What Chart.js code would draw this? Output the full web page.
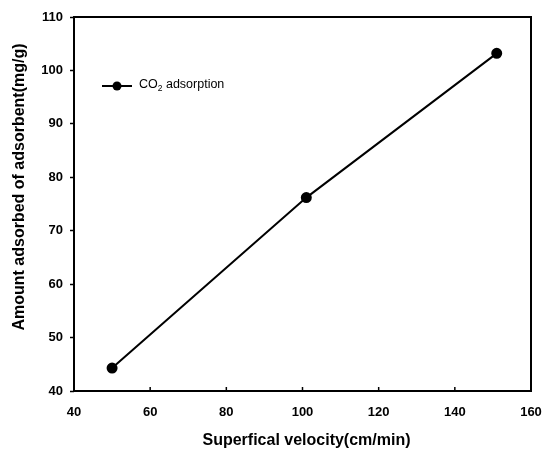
<!DOCTYPE html>
<html>
<head>
<meta charset="utf-8">
<script src="https://cdn.jsdelivr.net/npm/chart.js@4.4.1/dist/chart.umd.min.js"></script>
<style>
  html, body { margin: 0; padding: 0; background: #fff; }
  #wrap { width: 556px; height: 455px; position: relative; }
</style>
</head>
<body>
<div id="wrap"><canvas id="chart"></canvas></div>
<script>
// Superficial velocity vs CO2 amount adsorbed
var VELOCITY = [50, 101, 151];
var ADSORBED = [44.3, 76.2, 103.2];
var SERIES_LABEL = 'CO2 adsorption';
var X_TITLE = 'Superfical velocity(cm/min)';
var Y_TITLE = 'Amount adsorbed of adsorbent(mg/g)';
var X_RANGE = [40, 160, 20];
var Y_RANGE = [40, 110, 10];

var FONT = '"Liberation Sans", Arial, sans-serif';

var points = VELOCITY.map(function (v, i) { return { x: v, y: ADSORBED[i] }; });

// ── frame, inward x ticks, titles, legend ──
var decorations = {
  id: 'decorations',
  afterDraw: function (chart) {
    var ctx = chart.ctx;
    var a = chart.chartArea;
    var xs = chart.scales.x;
    ctx.save();
    ctx.strokeStyle = '#000';
    ctx.lineWidth = 2;
    ctx.strokeRect(a.left, a.top, a.right - a.left, a.bottom - a.top);

    // x ticks point into the plot
    ctx.lineWidth = 1.5;
    xs.ticks.forEach(function (t) {
      var px = xs.getPixelForValue(t.value);
      ctx.beginPath();
      ctx.moveTo(px, a.bottom);
      ctx.lineTo(px, a.bottom - 4);
      ctx.stroke();
    });

    // axis titles
    ctx.fillStyle = '#000';
    ctx.font = 'bold 16px ' + FONT;
    ctx.textAlign = 'center';
    ctx.textBaseline = 'middle';
    ctx.fillText(X_TITLE, (a.left + a.right) / 2 + 4, 441);
    ctx.translate(20, 187);
    ctx.rotate(-Math.PI / 2);
    ctx.fillText(Y_TITLE, 0, 0);
    ctx.restore();

    // legend
    ctx.save();
    ctx.strokeStyle = '#000';
    ctx.fillStyle = '#000';
    ctx.lineWidth = 2;
    ctx.beginPath();
    ctx.moveTo(102, 86);
    ctx.lineTo(132, 86);
    ctx.stroke();
    ctx.beginPath();
    ctx.arc(117, 86, 4.5, 0, Math.PI * 2);
    ctx.fill();
    ctx.textBaseline = 'middle';
    ctx.textAlign = 'left';
    var parts = SERIES_LABEL.split('2');
    var x = 139;
    ctx.font = '12.5px ' + FONT;
    ctx.fillText(parts[0], x, 85);
    x += ctx.measureText(parts[0]).width;
    ctx.font = '8.5px ' + FONT;
    ctx.fillText('2', x, 89);
    x += ctx.measureText('2').width;
    ctx.font = '12.5px ' + FONT;
    ctx.fillText(parts[1], x, 85);
    ctx.restore();
  }
};

new Chart(document.getElementById('chart'), {
  type: 'scatter',
  data: {
    datasets: [{
      label: SERIES_LABEL,
      data: points,
      showLine: true,
      borderColor: '#000',
      backgroundColor: '#000',
      borderWidth: 2,
      pointRadius: 4.5,
      pointHoverRadius: 4.5,
      pointBackgroundColor: '#000',
      pointBorderColor: '#000',
      tension: 0
    }]
  },
  options: {
    responsive: true,
    maintainAspectRatio: false,
    animation: false,
    events: [],
    layout: { padding: { left: 0, top: 17, right: 25, bottom: 0 } },
    plugins: {
      legend: { display: false },
      tooltip: { enabled: false }
    },
    scales: {
      x: {
        type: 'linear',
        min: X_RANGE[0],
        max: X_RANGE[1],
        afterFit: function (s) { s.height = 64; },
        border: { display: false },
        grid: { display: false, drawTicks: false },
        ticks: {
          stepSize: X_RANGE[2],
          padding: 14,
          color: '#000',
          font: { family: FONT, size: 13, weight: 'bold' }
        }
      },
      y: {
        type: 'linear',
        min: Y_RANGE[0],
        max: Y_RANGE[1],
        afterFit: function (s) { s.width = 74; },
        border: { display: false },
        grid: { display: true, drawOnChartArea: false, drawTicks: true, tickLength: 4, tickWidth: 1.5, color: '#000' },
        ticks: {
          stepSize: Y_RANGE[2],
          padding: 7,
          color: '#000',
          font: { family: FONT, size: 13, weight: 'bold' }
        }
      }
    }
  },
  plugins: [decorations]
});
</script>
</body>
</html>
